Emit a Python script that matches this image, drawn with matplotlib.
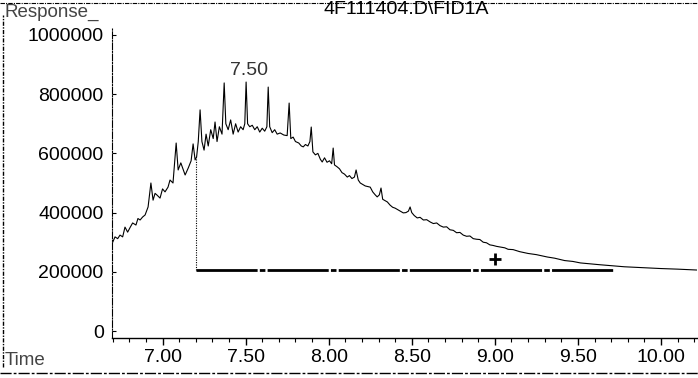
import matplotlib
matplotlib.use("Agg")
import matplotlib.pyplot as plt
from matplotlib.ticker import MultipleLocator, FixedLocator

plt.rcParams['font.family'] = ['Liberation Sans', 'DejaVu Sans']

title = "4F111404.D\\FID1A"
peak_label = "7.50"
peak_label_pos = (7.52, 880000)

# chromatogram trace (time [min], response)
time = [6.700, 6.714, 6.730, 6.744, 6.760, 6.774, 6.790, 6.805, 6.820, 6.840,
        6.852, 6.865, 6.880, 6.895, 6.913, 6.930,
        6.943, 6.955, 6.967, 6.985, 7.000, 7.015, 7.033, 7.045, 7.063, 7.082, 7.094, 7.110,
        7.136, 7.155, 7.172, 7.184, 7.196, 7.205, 7.215, 7.226, 7.237, 7.250,
        7.262, 7.275, 7.290, 7.305, 7.316, 7.328, 7.342, 7.358, 7.371, 7.381,
        7.395, 7.410, 7.425, 7.440, 7.455, 7.470, 7.485, 7.495, 7.503, 7.512,
        7.525, 7.540, 7.555, 7.570, 7.585, 7.600, 7.615, 7.628, 7.636, 7.645,
        7.660, 7.675, 7.690, 7.708, 7.730, 7.750, 7.762, 7.772, 7.786, 7.800,
        7.820, 7.835, 7.847, 7.860, 7.875, 7.887, 7.895, 7.905, 7.920, 7.935,
        7.950, 7.961, 7.975, 7.990, 8.005, 8.018, 8.027, 8.035, 8.050, 8.065,
        8.080, 8.095, 8.112, 8.125, 8.140, 8.155, 8.165, 8.178, 8.190, 8.205,
        8.220, 8.235, 8.250, 8.265, 8.280, 8.292, 8.305, 8.315, 8.325, 8.340,
        8.353, 8.370, 8.385, 8.400, 8.415, 8.430, 8.449, 8.465, 8.480, 8.490,
        8.500, 8.515, 8.533, 8.550, 8.570, 8.590, 8.612, 8.630, 8.650, 8.670,
        8.690, 8.710, 8.730, 8.750, 8.770, 8.790, 8.810, 8.830, 8.850, 8.870,
        8.890, 8.910, 8.930, 8.950, 8.970, 8.990, 9.010, 9.030, 9.060, 9.080,
        9.110, 9.150, 9.200, 9.250, 9.316, 9.360, 9.420, 9.470, 9.515, 9.570,
        9.630, 9.714, 9.780, 9.850, 9.920, 10.000, 10.100, 10.217]
response = [300000, 318000, 312000, 324000, 318000, 351000, 334000, 350000, 365000, 358000,
            380000, 375000, 385000, 392000, 419000, 500000,
            442000, 465000, 459000, 449000, 480000, 470000, 486000, 510000, 500000, 635000, 544000, 568000,
            527000, 551000, 575000, 632000, 578000, 588000, 640000, 747000, 640000, 611000,
            665000, 625000, 680000, 650000, 706000, 640000, 690000, 665000, 838000, 700000,
            680000, 713000, 665000, 700000, 672000, 690000, 680000, 700000, 841000, 700000,
            690000, 695000, 680000, 690000, 672000, 685000, 675000, 690000, 824000, 690000,
            670000, 680000, 665000, 669000, 662000, 660000, 770000, 650000, 655000, 640000,
            635000, 625000, 622000, 630000, 625000, 640000, 689000, 605000, 595000, 600000,
            580000, 571000, 585000, 570000, 575000, 565000, 618000, 561000, 555000, 548000,
            535000, 530000, 520000, 525000, 515000, 520000, 544000, 510000, 500000, 495000,
            490000, 488000, 486000, 470000, 460000, 453000, 460000, 483000, 445000, 440000,
            436000, 425000, 418000, 415000, 410000, 405000, 399000, 400000, 405000, 419000,
            400000, 390000, 382000, 384000, 375000, 376000, 368000, 363000, 365000, 356000,
            351000, 352000, 342000, 340000, 332000, 333000, 324000, 320000, 321000, 312000,
            310000, 309000, 300000, 298000, 291000, 289000, 286000, 284000, 281000, 276000,
            275000, 268000, 262000, 258000, 250000, 246000, 238000, 235000, 230000, 227000,
            224000, 220000, 217000, 215000, 213000, 211000, 209000, 206000]

# integration baseline
base_t = [7.202, 9.714]
base_v = [205000, 205000]
start_drop_v = 588000
cross_t = 9.00
cross_v = 243000

xticks = [7.00, 7.50, 8.00, 8.50, 9.00, 9.50, 10.00]
xtick_labels = ["7.00", "7.50", "8.00", "8.50", "9.00", "9.50", "10.00"]
yticks = [0, 200000, 400000, 600000, 800000, 1000000]
ytick_labels = ["0", "200000", "400000", "600000", "800000", "1000000"]

fig = plt.figure(figsize=(6.98, 3.78), dpi=100)
ax = fig.add_axes([0.1605, 0.1058, 0.8381, 0.8202])
ax.set_xlim(6.696, 10.217)
ax.set_ylim(-23600, 1023600)

ax.plot(time, response, color='black', lw=0.8)
ax.plot(base_t, base_v, color='black', lw=2.0, dashes=(22, 0.8, 2, 0.8))
ax.plot([base_t[0], base_t[0]], [base_v[0], start_drop_v], color='black', lw=0.8, ls=(0, (1, 1.2)))
ax.plot([cross_t], [cross_v], marker='+', color='black', ms=9, mew=2)
ax.text(peak_label_pos[0], peak_label_pos[1], peak_label, ha='center', va='center',
        fontsize=14, color='#333333')

for s in ['top', 'right']:
    ax.spines[s].set_visible(False)
ax.spines['left'].set_linestyle((0, (6, 1.5, 1, 1.5)))
ax.spines['left'].set_linewidth(0.8)
ax.spines['bottom'].set_linewidth(1.0)

ax.xaxis.set_major_locator(FixedLocator(xticks))
ax.set_xticklabels(xtick_labels, fontsize=14)
ax.xaxis.set_minor_locator(MultipleLocator(0.1))
ax.tick_params(axis='x', which='major', direction='out', length=5, width=1, pad=3)
ax.tick_params(axis='x', which='minor', direction='out', length=3, width=0.8)
ax.set_yticks(yticks)
ax.set_yticklabels(ytick_labels, fontsize=14)
ax.tick_params(axis='y', which='major', direction='in', length=3, width=0.8, pad=6)

fig.text(0.007, 0.966, "Response_", fontsize=13.5, color='#444444', ha='left', va='center')
fig.text(0.582, 0.974, title, fontsize=14, ha='center', va='center')
fig.text(0.007, 0.045, "Time", fontsize=13.5, color='#444444', ha='left', va='center')

# page border remnants
fig.add_artist(plt.Line2D([0.0, 1.0], [0.993, 0.993], transform=fig.transFigure,
                          color='black', lw=0.8, ls=(0, (4, 1, 1, 1))))
fig.add_artist(plt.Line2D([0.004, 0.004], [0.03, 0.96], transform=fig.transFigure,
                          color='black', lw=1.0, ls=(0, (3, 1, 1, 1))))
fig.add_artist(plt.Line2D([0.0, 1.0], [0.013, 0.013], transform=fig.transFigure,
                          color='black', lw=1.0, ls=(0, (8, 1.5, 2, 1.5))))

fig.savefig("out.png", dpi=100, facecolor='white')
